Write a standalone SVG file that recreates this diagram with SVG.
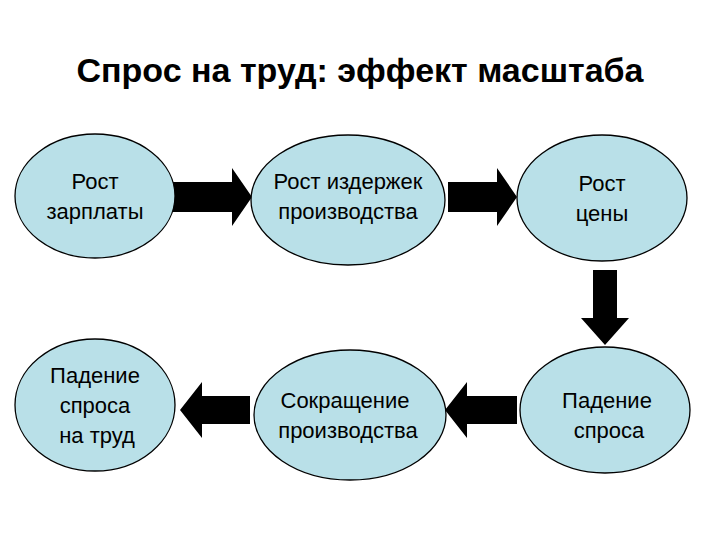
<svg xmlns="http://www.w3.org/2000/svg" width="720" height="540" viewBox="0 0 720 540">
<style>
.n{fill:#b9e0e8;stroke:#000;stroke-width:1.3}
.t{font-family:"Liberation Sans",Arial,sans-serif;font-size:22px;text-anchor:middle;fill:#000}
.a{fill:#000}
</style>
<rect width="720" height="540" fill="#fff"/>
<text x="360" y="82" style="font-family:'Liberation Sans',Arial,sans-serif;font-size:34px;font-weight:bold;text-anchor:middle">Спрос на труд: эффект масштаба</text>
<g id="connectors">
<polygon class="a" points="173,182 232,182 232,168 252,197 232,226 232,212 173,212"/>
<polygon class="a" points="448,182 497,182 497,168 517,197 497,226 497,212 448,212"/>
<polygon class="a" points="593,270 617,270 617,318 629,318 605,345 581,318 593,318"/>
<polygon class="a" points="250,396 202,396 202,382 180,410 202,438 202,424 250,424"/>
<polygon class="a" points="517,396 467,396 467,382 445,410 467,438 467,424 517,424"/>
</g>
<g id="n1"><ellipse class="n" cx="95" cy="196" rx="80" ry="62"/><text class="t" x="95" y="189">Рост</text><text class="t" x="95" y="219">зарплаты</text></g>
<g id="n2"><ellipse class="n" cx="348" cy="200" rx="97" ry="65"/><text class="t" x="348" y="189">Рост издержек</text><text class="t" x="348" y="219">производства</text></g>
<g id="n3"><ellipse class="n" cx="602" cy="198" rx="85" ry="63"/><text class="t" x="602" y="191">Рост</text><text class="t" x="602" y="221">цены</text></g>
<g id="n4"><ellipse class="n" cx="95" cy="405" rx="80" ry="66"/><text class="t" x="95" y="383">Падение</text><text class="t" x="95" y="413">спроса</text><text class="t" x="97" y="443">на труд</text></g>
<g id="n5"><ellipse class="n" cx="350" cy="415" rx="96" ry="65"/><text class="t" x="345" y="408">Сокращение</text><text class="t" x="348" y="438">производства</text></g>
<g id="n6"><ellipse class="n" cx="605" cy="410" rx="85" ry="63"/><text class="t" x="607" y="408">Падение</text><text class="t" x="609" y="438">спроса</text></g>
</svg>
